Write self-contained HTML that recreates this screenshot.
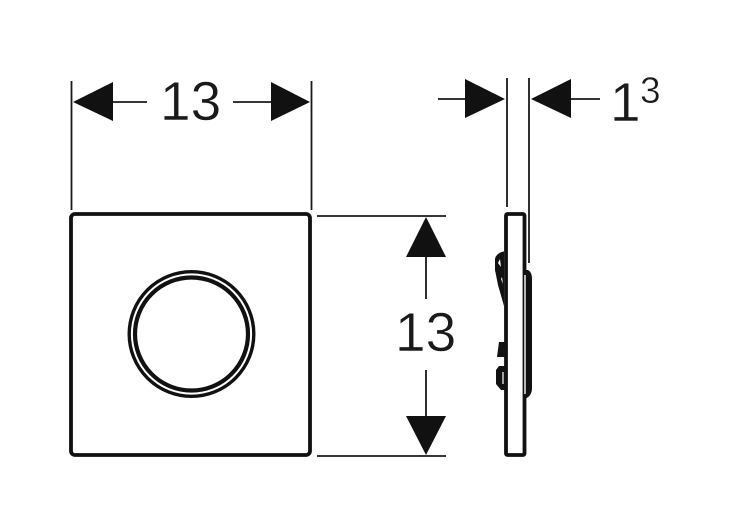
<!DOCTYPE html>
<html><head><meta charset="utf-8"><style>
html,body{margin:0;padding:0;background:#fff;width:731px;height:532px;overflow:hidden}
svg{display:block}
text{font-family:"Liberation Sans",sans-serif;fill:#1a1a1a;stroke:#fff;stroke-width:.5px;paint-order:normal}
</style></head><body>
<svg width="731" height="532" viewBox="0 0 731 532" xmlns="http://www.w3.org/2000/svg">
<rect width="731" height="532" fill="#fff"/>
<g stroke="#1a1a1a" stroke-width="1.8" fill="none">
<path d="M71.5 81V210M311.5 81V210"/>
<path d="M113 102H147M233 102H271"/>
<path d="M317 216H446M317 456H446"/>
<path d="M426 257V299M426 370V416"/>
<path d="M507 78V207M529 78V263"/>
<path d="M438 99H465M571 99H600"/>
</g>
<g fill="#111">
<path d="M73 102L113 82V121Z"/>
<path d="M310 102L271 82V121Z"/>
<path d="M426 217L406 257H446Z"/>
<path d="M426 455L406 416H446Z"/>
<path d="M505 99L465 79V118Z"/>
<path d="M531 99L571 79V118Z"/>
</g>
<text x="160" y="120" font-size="55">13</text>
<text x="395" y="351" font-size="55">13</text>
<text x="610" y="121" font-size="55">1</text>
<text x="640" y="103" font-size="37">3</text>
<rect x="71" y="214" width="239" height="241" rx="4" fill="none" stroke="#111" stroke-width="3.8"/>
<circle cx="191.5" cy="334" r="62.3" fill="none" stroke="#111" stroke-width="3.4"/>
<circle cx="191.5" cy="334" r="56.5" fill="none" stroke="#111" stroke-width="4.2"/>
<rect x="506" y="214" width="18.5" height="241" rx="1.5" fill="#fff" stroke="#111" stroke-width="3.8"/>
<path d="M525 270H528Q532 272 532 279V388Q532 396 525 399Z" fill="#111"/>
<path d="M525 275V394" stroke="#fff" stroke-width="1.4" fill="none"/>
<path d="M505 251Q496 253 495 259L495 270L498 285L504 306V251Z" fill="#111"/>
<path d="M500 259L498 263L501 267Z M502 277L501 279L503 284Z" fill="#fff"/>
<path d="M499 342H505V357H497Z" fill="#111"/>
<path d="M505 366H499L496 370V384L501 390H505Z" fill="#111"/>
<path d="M503 372V384" stroke="#fff" stroke-width="1.2"/>
</svg>
</body></html>
